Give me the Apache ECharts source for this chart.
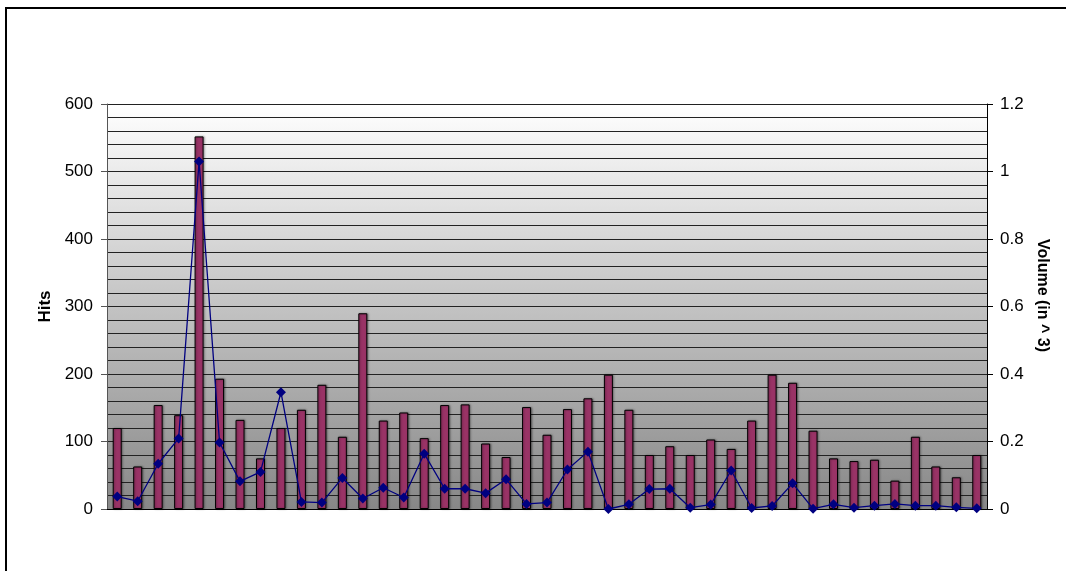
<!DOCTYPE html>
<html>
<head>
<meta charset="utf-8">
<script src="https://cdn.jsdelivr.net/npm/echarts@6/dist/echarts.min.js"></script>
<style>
html,body{margin:0;padding:0;background:#fff;}
#chart{width:1066px;height:571px;}
</style>
</head>
<body>
<div id="chart"></div>
<script>
var categories = [];
for (var i = 1; i <= 43; i++) categories.push(String(i));

var hits = [120, 63, 154, 139, 552, 193, 132, 75, 120, 147,
            184, 107, 290, 131, 143, 105, 154, 155, 97, 77,
            151, 110, 148, 164, 199, 147, 80, 93, 80, 103,
            89, 131, 199, 187, 116, 75, 71, 73, 42, 107,
            63, 47, 80];

var volume = [0.037, 0.023, 0.134, 0.209, 1.030, 0.197, 0.082, 0.110, 0.346, 0.021,
              0.019, 0.092, 0.031, 0.063, 0.034, 0.164, 0.060, 0.060, 0.047, 0.088,
              0.015, 0.019, 0.117, 0.170, 0.000, 0.014, 0.059, 0.060, 0.004, 0.013,
              0.114, 0.003, 0.009, 0.076, 0.001, 0.014, 0.004, 0.010, 0.015, 0.010,
              0.010, 0.005, 0.002];

var leftTitle = 'Hits';
var rightTitle = 'Volume (in ^ 3)';

var FONT = "'Liberation Sans', Arial, sans-serif";
var chart = echarts.init(document.getElementById('chart'), null, {renderer: 'canvas'});

chart.setOption({
  animation: false,
  backgroundColor: '#ffffff',
  textStyle: {fontFamily: FONT},
  graphic: [{
    type: 'rect',
    shape: {x: 6, y: 8, width: 1200, height: 700},
    style: {fill: null, stroke: '#000', lineWidth: 2},
    silent: true,
    z: 100
  }],
  grid: {
    left: 107, right: 79, top: 104, bottom: 62,
    show: true,
    borderWidth: 0,
    backgroundColor: {
      type: 'linear', x: 0, y: 0, x2: 0, y2: 1,
      colorStops: [
        {offset: 0, color: '#ffffff'},
        {offset: 1, color: '#878787'}
      ]
    }
  },
  xAxis: {
    type: 'category',
    data: categories,
    boundaryGap: true,
    axisLine: {show: true, lineStyle: {color: '#000', width: 1}},
    axisTick: {show: false},
    axisLabel: {show: false},
    splitLine: {show: false}
  },
  yAxis: [{
    type: 'value',
    min: 0, max: 600, interval: 100,
    name: leftTitle,
    nameLocation: 'middle',
    nameRotate: 90,
    nameGap: 52,
    nameTextStyle: {fontFamily: FONT, fontSize: 17, fontWeight: 'bold', color: '#000'},
    axisLine: {show: true, lineStyle: {color: '#555', width: 1}},
    axisTick: {show: true, length: 6, lineStyle: {color: '#555'}},
    axisLabel: {fontFamily: FONT, fontSize: 17, color: '#000', margin: 14},
    splitLine: {show: true, lineStyle: {color: '#222', width: 1}},
    minorTick: {show: false, splitNumber: 5},
    minorSplitLine: {show: true, lineStyle: {color: '#222', width: 1}}
  }, {
    type: 'value',
    min: 0, max: 1.2, interval: 0.2,
    position: 'right',
    name: rightTitle,
    nameLocation: 'middle',
    nameRotate: -90,
    nameGap: 46,
    nameTextStyle: {fontFamily: FONT, fontSize: 16, fontWeight: 'bold', color: '#000', padding: [0, 22, 0, 0]},
    axisLine: {show: true, lineStyle: {color: '#000', width: 1}},
    axisTick: {show: true, length: 6, lineStyle: {color: '#000'}},
    axisLabel: {fontFamily: FONT, fontSize: 17, color: '#000', margin: 13},
    splitLine: {show: false}
  }],
  series: [{
    type: 'bar',
    yAxisIndex: 0,
    data: hits,
    barWidth: 9,
    itemStyle: {
      color: '#993366',
      borderColor: '#000',
      borderWidth: 1,
      shadowColor: 'rgba(0,0,0,0.35)',
      shadowBlur: 2,
      shadowOffsetX: 1,
      shadowOffsetY: 0
    },
    z: 2
  }, {
    type: 'line',
    yAxisIndex: 1,
    data: volume,
    symbol: 'diamond',
    symbolSize: 10,
    showAllSymbol: true,
    lineStyle: {color: '#000080', width: 1.3},
    itemStyle: {color: '#000080', borderWidth: 0},
    z: 3
  }]
});
</script>
</body>
</html>
